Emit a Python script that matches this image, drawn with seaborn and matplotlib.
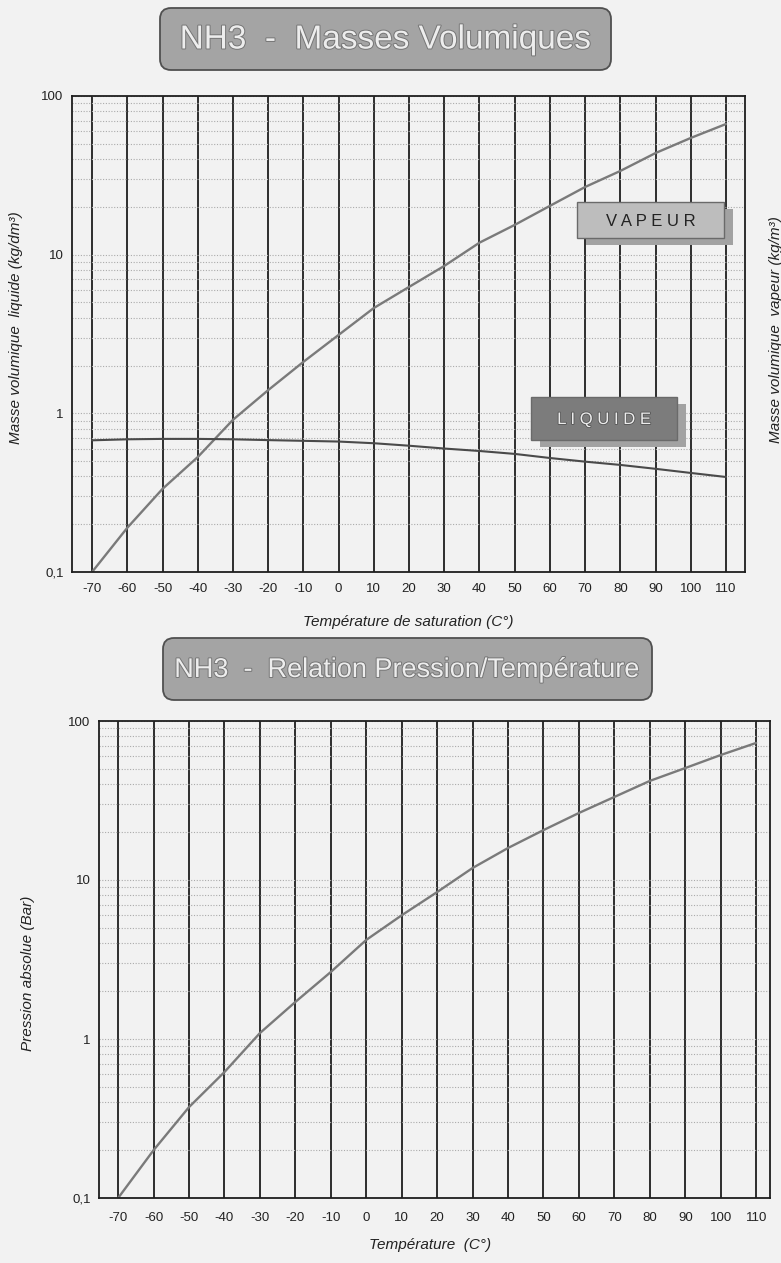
import matplotlib
matplotlib.use('Agg')
import seaborn as sns
from matplotlib import pyplot as plt
from matplotlib import patheffects
from matplotlib.patches import FancyBboxPatch, Rectangle

# --- data ---
temperatures = [-70, -60, -50, -40, -30, -20, -10, 0, 10, 20,
                30, 40, 50, 60, 70, 80, 90, 100, 110]
# vapour density (kg/m3)
vapeur = [0.100, 0.19, 0.334, 0.53, 0.91, 1.40, 2.11, 3.12, 4.61, 6.26,
          8.49, 11.9, 15.4, 20.3, 26.7, 33.7, 43.7, 54.4, 66.6]
# liquid density (kg/dm3)
liquide = [0.676, 0.686, 0.690, 0.690, 0.686, 0.678, 0.671, 0.664, 0.648, 0.625,
           0.600, 0.579, 0.555, 0.523, 0.496, 0.473, 0.447, 0.421, 0.397]
# absolute pressure (bar)
pression = [0.100, 0.20, 0.373, 0.62, 1.09, 1.71, 2.64, 4.20, 6.0, 8.4,
            11.9, 15.9, 20.6, 26.4, 33.3, 42.0, 50.6, 61.1, 72.8]

y_ticks = [0.1, 1, 10, 100]
y_tick_labels = ['0,1', '1', '10', '100']

sns.set_style('ticks')
plt.rcParams['font.family'] = ['Liberation Sans', 'DejaVu Sans']

W, H = 781, 1263
paper = '#f2f2f2'
fig = plt.figure(figsize=(W / 100, H / 100), dpi=100, facecolor=paper)


def px_axes(left, top, right, bottom):
    return fig.add_axes([left / W, 1 - bottom / H, (right - left) / W, (bottom - top) / H])


def style_panel(ax, xlim, pad_x):
    ax.set_facecolor(paper)
    ax.set_yscale('log')
    ax.set_xlim(*xlim)
    ax.set_ylim(0.1, 100)
    ax.set_xticks(temperatures)
    ax.set_xticklabels([str(t) for t in temperatures])
    ax.set_yticks(y_ticks)
    ax.set_yticklabels(y_tick_labels)
    ax.tick_params(axis='both', which='both', length=0, labelsize=9.5, colors='#222222')
    ax.tick_params(axis='x', pad=pad_x)
    ax.tick_params(axis='y', pad=6)
    ax.grid(axis='x', which='major', color='#1e1e1e', lw=1.3, ls='-')
    ax.grid(axis='y', which='both', color='#ababab', lw=0.8, ls=(0, (1, 1.5)))
    ax.set_axisbelow(True)
    for s in ax.spines.values():
        s.set_color('#1e1e1e')
        s.set_linewidth(1.3)
        s.set_visible(True)
    ax.set_xlabel('')
    ax.set_ylabel('')


# top panel: densities
ax1 = px_axes(72, 96, 745, 572)
sns.lineplot(x=temperatures, y=vapeur, ax=ax1, color='#7a7a7a', lw=1.7)
sns.lineplot(x=temperatures, y=liquide, ax=ax1, color='#4a4a4a', lw=1.5)
style_panel(ax1, (-75.7, 115.4), 8)

# bottom panel: pressure
ax2 = px_axes(99, 721, 770, 1198)
sns.lineplot(x=temperatures, y=pression, ax=ax2, color='#7a7a7a', lw=1.7)
style_panel(ax2, (-75.4, 113.9), 10)

# overlay in pixel coordinates for the decorations
ov = fig.add_axes([0, 0, 1, 1], facecolor='none')
ov.set_xlim(0, W)
ov.set_ylim(H, 0)
ov.axis('off')

title_fx = [patheffects.withStroke(linewidth=1.4, foreground='#767676')]


def title_box(x, y, w, h, text, size):
    ov.add_patch(FancyBboxPatch((x, y), w, h, boxstyle='round,pad=0,rounding_size=11',
                                fc='#a4a4a4', ec='#505050', lw=1.3))
    ov.text(x + w / 2, y + h / 2 + 1, text, ha='center', va='center', fontsize=size,
            color='#ededed', path_effects=title_fx)


title_box(160, 8, 451, 62, 'NH3  -  Masses Volumiques', 24)
title_box(163, 638, 489, 62, 'NH3  -  Relation Pression/Température', 19.5)


def tag(x, y, w, h, text, fc, tc, fx=None):
    ov.add_patch(Rectangle((x + 9, y + 7), w, h, fc='#a2a2a2', ec='none'))
    ov.add_patch(Rectangle((x, y), w, h, fc=fc, ec='#6a6a6a', lw=1))
    ov.text(x + w / 2, y + h / 2 + 1, text, ha='center', va='center', fontsize=12,
            color=tc, path_effects=fx)


tag(577, 202, 147, 36, 'V A P E U R', '#bdbdbd', '#222222')
tag(531, 397, 146, 43, 'L I Q U I D E', '#7c7c7c', '#ececec',
    [patheffects.withStroke(linewidth=1.2, foreground='#555555')])

label_kw = dict(fontsize=11, style='italic', color='#222222', ha='center', va='center')
ov.text(408, 622, 'Température de saturation (C°)', **label_kw)
ov.text(16, 328, 'Masse volumique  liquide (kg/dm³)', rotation=90, **label_kw)
ov.text(776, 330, 'Masse volumique  vapeur (kg/m³)', rotation=90, **label_kw)
ov.text(430, 1245, 'Température  (C°)', **label_kw)
ov.text(28, 973, 'Pression absolue (Bar)', rotation=90, **label_kw)

fig.savefig('out.png', dpi=100, facecolor=paper)
